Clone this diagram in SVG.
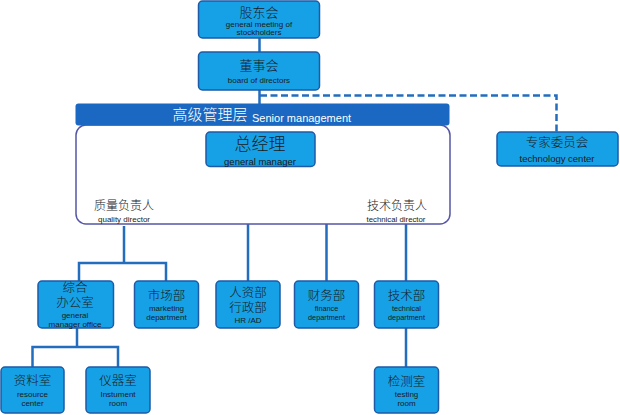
<svg xmlns="http://www.w3.org/2000/svg" width="620" height="415" viewBox="0 0 620 415">
<style>
.box{fill:#16a1e6;stroke:#1e5aa6;stroke-width:1.5}
.cn{font-family:"Liberation Sans","Noto Sans CJK SC",sans-serif;fill:#1a1a1a;text-anchor:middle;font-weight:300}
.en{font-family:"Liberation Sans","Noto Sans CJK SC",sans-serif;fill:#1a1a1a;text-anchor:middle;font-size:8px}
.ln{fill:none;stroke:#236dbe;stroke-width:2.5}
.dash{fill:none;stroke:#236dbe;stroke-width:2.5;stroke-dasharray:7 3.5}
</style>
<rect width="620" height="415" fill="#ffffff"/>
<g id="connectors">
<path class="ln" d="M259.5 38V52M259.5 90V104"/>
<path class="dash" d="M260 95.5H556.5V131.5"/>
<path class="ln" d="M260.5 166.5V179H124V196M260.5 179H397.5V196"/>
<path class="ln" d="M124 226V263M79 281V263H166V281"/>
<path class="ln" d="M248 224V281M326.5 224V281M406 224V281M406 328V367"/>
<path class="ln" d="M77 328V347M32.5 367V347H118V367"/>
</g>
<g id="senior-management">
<rect x="76" y="125" width="374" height="99" rx="10" fill="#ffffff" stroke="#5656a6" stroke-width="1.5"/>
<rect x="75.5" y="103.5" width="374" height="22" rx="3" fill="#1a68c2"/>
<text x="210" y="120" class="cn" font-size="15" style="fill:#ffffff">高级管理层</text>
<text x="252" y="122" font-family="Liberation Sans, sans-serif" font-size="11" fill="#ffffff">Senior management</text>
</g>
<g id="gudonghui">
<rect class="box" x="198.5" y="1" width="121" height="37" rx="4"/>
<text x="259" y="17" class="cn" font-size="13">股东会</text>
<text x="259" y="27" class="en">general meeting of</text>
<text x="259" y="35" class="en">stockholders</text>
</g>
<g id="dongshihui">
<rect class="box" x="198.5" y="52" width="121" height="38" rx="4"/>
<text x="259" y="70" class="cn" font-size="13">董事会</text>
<text x="259" y="83" class="en">board of directors</text>
</g>
<g id="zongjingli">
<rect class="box" x="206" y="132" width="109" height="34.5" rx="4"/>
<text x="260" y="149.5" class="cn" font-size="17">总经理</text>
<text x="260" y="164.5" class="en" style="font-size:9.5px">general manager</text>
</g>
<g id="zhiliang">
<text x="124" y="210" class="cn" font-size="12">质量负责人</text>
<text x="124" y="222" class="en">quality director</text>
</g>
<g id="jishu-fuzeren">
<text x="397" y="210" class="cn" font-size="12">技术负责人</text>
<text x="396" y="222" class="en" style="font-size:7.8px">technical director</text>
</g>
<g id="zhuanjia">
<rect class="box" x="497" y="132" width="121" height="34" rx="4"/>
<text x="557" y="147" class="cn" font-size="12.5">专家委员会</text>
<text x="557" y="162" class="en" style="font-size:9.5px">technology center</text>
</g>
<g id="zonghe">
<rect class="box" x="38" y="281" width="75.5" height="47" rx="4"/>
<text x="75" y="292" class="cn" font-size="12.5">综合</text>
<text x="75" y="306.5" class="cn" font-size="12.5">办公室</text>
<text x="75" y="317.5" class="en">general</text>
<text x="75" y="327" class="en">manager office</text>
</g>
<g id="shichang">
<rect class="box" x="134.5" y="281" width="64" height="47" rx="4"/>
<text x="166.5" y="300" class="cn" font-size="12.5">市场部</text>
<text x="166.5" y="311" class="en">marketing</text>
<text x="166.5" y="320" class="en">department</text>
</g>
<g id="renzi">
<rect class="box" x="216" y="281" width="64" height="47" rx="4"/>
<text x="248" y="297" class="cn" font-size="12.5">人资部</text>
<text x="248" y="312" class="cn" font-size="12.5">行政部</text>
<text x="248" y="323" class="en">HR /AD</text>
</g>
<g id="caiwu">
<rect class="box" x="294.5" y="281" width="64" height="47" rx="4"/>
<text x="326.5" y="300" class="cn" font-size="12.5">财务部</text>
<text x="326.5" y="311" class="en" style="font-size:7.3px">finance</text>
<text x="326.5" y="320" class="en" style="font-size:7.3px">department</text>
</g>
<g id="jishubu">
<rect class="box" x="374.5" y="281" width="64" height="47" rx="4"/>
<text x="406.5" y="300" class="cn" font-size="12.5">技术部</text>
<text x="406.5" y="311" class="en" style="font-size:7.3px">technical</text>
<text x="406.5" y="320" class="en" style="font-size:7.3px">department</text>
</g>
<g id="ziliao">
<rect class="box" x="1" y="367" width="63" height="46" rx="4"/>
<text x="32.5" y="385" class="cn" font-size="12.5">资料室</text>
<text x="32.5" y="397" class="en">resource</text>
<text x="32.5" y="406" class="en">center</text>
</g>
<g id="yiqi">
<rect class="box" x="86" y="367" width="64" height="46" rx="4"/>
<text x="118" y="385" class="cn" font-size="12.5">仪器室</text>
<text x="118" y="397" class="en">Instument</text>
<text x="118" y="406" class="en">room</text>
</g>
<g id="jiance">
<rect class="box" x="374.5" y="367" width="64" height="46" rx="4"/>
<text x="406.5" y="386" class="cn" font-size="12.5">检测室</text>
<text x="406.5" y="397" class="en">testing</text>
<text x="406.5" y="406" class="en">room</text>
</g>
</svg>
